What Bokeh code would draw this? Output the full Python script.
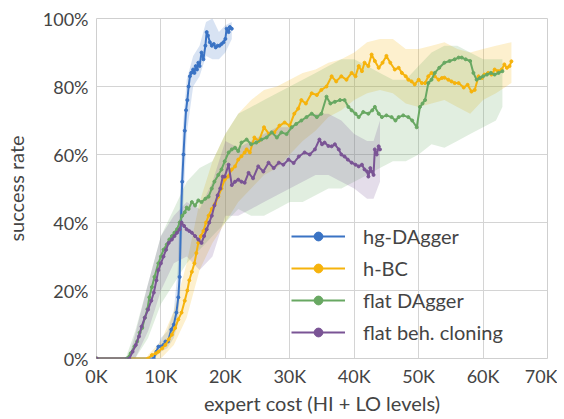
from bokeh.plotting import figure
from bokeh.models import FixedTicker, Legend, LegendItem, Range1d
from bokeh.embed import file_html
from bokeh.resources import INLINE

# ---------------- data (x in thousands of expert cost, y in %) ----------------
x_tick_vals = [0, 10, 20, 30, 40, 50, 60, 70]
x_tick_labels = ["0K", "10K", "20K", "30K", "40K", "50K", "60K", "70K"]
y_tick_vals = [0, 20, 40, 60, 80, 100]
y_tick_labels = ["0%", "20%", "40%", "60%", "80%", "100%"]

series_names = ["hg-DAgger", "h-BC", "flat DAgger", "flat beh. cloning"]
series_colors = ["#3a73c4", "#f6b30c", "#68a862", "#7a5495"]

hg_x = [0, 8.9, 9.3, 9.6, 10.0, 10.4, 10.7, 11.1, 11.6, 12.0, 12.4, 12.7, 12.9, 13.1, 13.3, 13.5,
        13.7, 13.9, 14.1, 14.3, 14.5, 14.7, 15.0, 15.2, 15.4, 15.6, 15.8, 16.0, 16.3, 16.6, 16.9,
        17.1, 17.3, 17.6, 17.9, 18.2, 18.5, 18.8, 19.1, 19.4, 19.7, 20.0, 20.2, 20.5, 20.7, 21.0]
hg_y = [0, 0, 2, 3.5, 3.5, 4, 5, 5, 8.5, 10, 13.5, 18, 24, 40, 52, 60,
        67, 73, 76, 80, 83, 84, 85, 84, 86, 85, 87, 86, 90, 88, 92,
        96, 95, 93, 92, 92.5, 91.5, 92, 92, 92.5, 93, 94, 97, 96, 97.5, 97]
hg_band_x = [8.9, 10, 11, 12, 12.6, 13.0, 13.4, 14.0, 15, 16, 17, 18, 19, 20, 21]
hg_band_lo = [0, 2, 3, 6, 10, 20, 42, 66, 80, 83, 89, 88, 88, 90, 94]
hg_band_hi = [1, 6, 8, 14, 26, 50, 68, 82, 89, 92, 99, 100, 96, 98, 99]

hbc_x = [0, 8.0, 8.6, 9.2, 9.6, 10.2, 10.7, 11.2, 11.7, 12.2, 12.7, 13.2, 13.7, 14.1, 14.4, 14.8,
         15.2, 15.5, 15.8, 16.2, 16.6, 17.0, 17.4, 17.9, 18.4, 18.9, 19.4, 19.9, 20.4, 21.0, 21.5,
         22.0, 22.5, 23.0, 23.3, 23.8, 24.5, 25.2, 26.0, 26.8, 27.6, 28.4, 29.2, 30.0, 30.7, 31.3,
         31.8, 32.5, 33.4, 34.2, 34.9, 35.7, 36.5, 37.2, 38.0, 38.8, 39.6, 40.2, 40.7, 41.2, 41.6,
         42.2, 42.7, 43.2, 43.8, 44.4, 45.0, 45.6, 46.3, 46.9, 47.4, 48.0, 48.4, 48.9, 49.4, 50.0,
         50.5, 51.0, 51.5, 52.0, 52.5, 53.1, 53.6, 54.0, 54.6, 55.1, 55.6, 56.2, 57.0, 57.6, 58.2,
         58.7, 59.3, 59.8, 60.2, 60.8, 61.3, 61.8, 62.3, 62.9, 63.3, 63.7, 64.1, 64.4]
hbc_y = [0, 0, 1, 1.5, 2, 3, 4, 5.6, 7, 9, 11.5, 13.5, 17, 20, 23, 25.5,
         28, 31, 34, 36, 37.5, 40, 42, 44, 45.5, 47.6, 50, 52.6, 53.5, 55.6, 56.5,
         58.5, 59.5, 60.6, 61.5, 60.6, 65, 64, 68, 66, 66.5, 68.5, 69.4, 68.5, 72, 73.5,
         76, 75, 78, 77.5, 79, 80, 83, 81.5, 83, 82, 84, 83, 86, 84.5, 87,
         86, 89.4, 87.5, 85.5, 87, 89, 87, 85, 85.5, 84, 83, 82, 81.5, 80.6, 82,
         81, 81, 83, 84, 83, 82, 82.5, 82.6, 82, 81.5, 81, 81, 79.7, 80.5, 78.5,
         79, 83, 82.5, 83.5, 84, 83.5, 85, 84.5, 85, 86.5, 85.5, 86, 87.4]
hbc_band_x = [8, 10, 12, 14, 16, 18, 20, 22, 24, 26, 28, 30, 32, 34, 36, 38, 40, 42, 44, 46,
              48, 50, 52, 54, 56, 58, 60, 62, 64.4]
hbc_band_lo = [0, 0, 4, 12, 26, 34, 40, 46, 50, 54, 56, 60, 64, 67, 71, 73, 76, 78, 79, 78,
               75, 74, 75, 76, 74, 72, 76, 78, 81]
hbc_band_hi = [1, 5, 14, 28, 46, 58, 66, 72, 76, 79, 80, 82, 84, 85, 87, 88, 90, 93, 94, 94,
               91, 91, 92, 93, 91, 90, 91, 92, 93]

fd_x = [0, 4.7, 5.3, 5.9, 6.3, 6.7, 7.1, 7.5, 7.9, 8.2, 8.6, 9.0, 9.6, 10.0, 10.4, 10.9, 11.3,
        11.7, 12.1, 12.5, 12.9, 13.3, 13.7, 14.0, 14.3, 14.8, 15.3, 15.8, 16.3, 16.9, 17.4, 17.9,
        18.3, 18.9, 19.4, 19.9, 20.5, 21.0, 21.5, 22.0, 22.5, 23.3, 24.0, 24.8, 25.6, 26.4, 27.2,
        28.0, 28.7, 29.5, 30.3, 31.0, 31.8, 32.6, 33.4, 34.2, 34.9, 35.7, 36.3, 37.0, 37.8, 38.5,
        39.1, 39.6, 40.2, 40.7, 41.4, 42.2, 42.8, 43.2, 43.8, 44.3, 45.0, 45.8, 46.4, 46.9, 47.6,
        48.4, 49.0, 49.7, 50.2, 50.6, 51.0, 51.5, 52.0, 52.5, 53.2, 54.0, 54.8, 55.6, 56.2, 56.7,
        57.3, 58.0, 58.5, 59.0, 59.5, 60.0, 60.6, 61.2, 61.8, 62.4, 63.0]
fd_y = [0, 0, 1.5, 3.5, 5, 7.6, 9, 12, 14.5, 18, 21, 24, 28, 30, 32, 33.5, 35,
        36, 37, 38, 40, 42, 43, 44.4, 44, 46, 45, 46.5, 46, 47, 47.6, 50,
        52, 54, 55.6, 58, 60.6, 61.5, 62, 61, 63.5, 64.4, 63, 63.5, 64.4, 65, 66.5,
        65, 66.5, 66, 68, 69, 70, 71, 72, 71, 72, 77, 75, 75.5, 76, 76,
        74, 73, 72, 71, 72.5, 72, 73, 74, 72, 71, 71.5, 71, 70, 71, 71.5,
        71, 70, 68, 74, 75, 76, 81, 82, 84, 85.5, 87, 87.5, 88, 88.5, 88.5,
        88, 87.5, 84, 82, 82.5, 83, 83.5, 84, 83.5, 84, 84.5]
fd_band_x = [4.7, 6, 8, 10, 12, 14, 16, 18, 20, 22, 24, 26, 28, 30, 32, 34, 36, 38, 40, 42, 44,
             46, 48, 50, 52, 54, 56, 58, 60, 62, 63]
fd_band_lo = [0, 0, 6, 16, 22, 28, 32, 36, 40, 44, 42, 42, 44, 46, 46, 48, 50, 50, 52, 54, 56,
              58, 58, 60, 63, 62, 64, 66, 68, 70, 74]
fd_band_hi = [1, 8, 22, 36, 44, 52, 56, 58, 66, 72, 74, 76, 78, 80, 82, 84, 86, 88, 88, 86, 84,
              82, 82, 86, 90, 92, 92, 90, 88, 88, 88]

fbc_x = [0, 5.1, 5.6, 6.1, 6.6, 7.0, 7.5, 8.0, 8.5, 8.9, 9.3, 9.6, 10.0, 10.4, 10.8, 11.2, 11.7,
         12.1, 12.5, 12.9, 13.2, 13.6, 14.0, 14.4, 14.8, 15.3, 15.8, 16.3, 16.7, 17.1, 17.5, 17.9,
         18.3, 18.8, 19.2, 19.6, 19.9, 20.5, 21.0, 21.5, 22.0, 22.5, 23.0, 23.6, 24.3, 25.1, 25.9,
         26.7, 27.5, 28.3, 29.0, 29.8, 30.6, 31.4, 32.3, 33.1, 33.9, 34.6, 35.0, 35.4, 36.0, 36.5,
         37.0, 37.6, 38.0, 38.5, 39.0, 39.6, 40.2, 40.7, 41.2, 41.6, 42.0, 42.2, 42.5, 42.7, 43.0,
         43.2, 43.5, 43.8, 44.0]
fbc_y = [0, 0, 2, 4, 6.5, 9.4, 12, 14.4, 17, 19.4, 23, 26, 28, 30, 32, 34, 35,
         36, 37, 38, 40, 39, 38, 37.5, 37, 36, 35, 34, 36, 38, 40, 42,
         45, 48, 50, 53.5, 53.5, 57, 51, 52, 52.6, 52, 51.7, 54.6, 53, 56.5, 55,
         57.6, 56, 57.6, 57, 58.5, 57.5, 59.4, 60.6, 60, 61.5, 64.4, 63, 63.5, 62.5, 62.4,
         63, 61.5, 60, 59.4, 58.5, 57.6, 57, 56.5, 57, 55.6, 55, 53.5, 56, 55, 54,
         61.5, 60, 62.4, 61.5]
fbc_band_x = [5.1, 6, 8, 10, 12, 14, 16, 18, 20, 22, 24, 26, 28, 30, 32, 34, 36, 38, 40, 42,
              43, 44]
fbc_band_lo = [0, 0, 8, 20, 28, 30, 26, 30, 42, 42, 44, 46, 48, 50, 52, 54, 54, 52, 50, 47,
               47, 52]
fbc_band_hi = [1, 7, 22, 36, 42, 46, 44, 52, 64, 62, 64, 66, 68, 68, 70, 72, 72, 70, 66, 64,
               64, 70]

lines = [(hg_x, hg_y), (hbc_x, hbc_y), (fd_x, fd_y), (fbc_x, fbc_y)]
bands = [(hg_band_x, hg_band_lo, hg_band_hi), (hbc_band_x, hbc_band_lo, hbc_band_hi),
         (fd_band_x, fd_band_lo, fd_band_hi), (fbc_band_x, fbc_band_lo, fbc_band_hi)]

FONT = "Lato"
TEXT = "#444444"

p = figure(frame_width=451, frame_height=340, output_backend="svg", toolbar_location=None,
           x_range=Range1d(0, 70), y_range=Range1d(0, 100),
           min_border_left=87, min_border_right=10, min_border_top=18, min_border_bottom=52)
p.background_fill_color = "white"
p.border_fill_color = "white"
p.outline_line_color = "#cfcfcf"
p.outline_line_width = 1

p.xaxis.ticker = FixedTicker(ticks=x_tick_vals)
p.yaxis.ticker = FixedTicker(ticks=y_tick_vals)
p.xaxis.major_label_overrides = {v: s for v, s in zip(x_tick_vals, x_tick_labels)}
p.yaxis.major_label_overrides = {v: s for v, s in zip(y_tick_vals, y_tick_labels)}
p.xaxis.axis_label = "expert cost (HI + LO levels)"
p.yaxis.axis_label = "success rate"
for ax in (p.xaxis, p.yaxis):
    ax.axis_line_color = None
    ax.major_tick_line_color = None
    ax.minor_tick_line_color = None
    ax.major_tick_out = 0
    ax.major_tick_in = 0
    ax.minor_tick_out = 0
    ax.minor_tick_in = 0
    ax.major_label_text_font = FONT
    ax.major_label_text_font_size = "18px"
    ax.major_label_text_color = TEXT
    ax.axis_label_text_font = FONT
    ax.axis_label_text_font_size = "20px"
    ax.axis_label_text_font_style = "normal"
    ax.axis_label_text_color = TEXT
p.xaxis.major_label_standoff = 6
p.yaxis.major_label_standoff = 8
p.xaxis.axis_label_standoff = 1
p.yaxis.axis_label_standoff = 12
p.grid.grid_line_color = "#d4d4d4"
p.grid.grid_line_width = 1

for (bx, lo, hi), c in zip(bands, series_colors):
    p.varea(x=bx, y1=lo, y2=hi, fill_color=c, fill_alpha=0.2)

items = []
for i, name in enumerate(series_names):
    (lx, ly), c = lines[i], series_colors[i]
    ln = p.line(x=lx, y=ly, line_color=c, line_width=2)
    dots = p.scatter(x=lx, y=ly, size=3, fill_color=c, line_color=c)
    items.append(LegendItem(label=name, renderers=[ln, dots]))

legend = Legend(items=items, location=(195, 14), border_line_color=None,
                background_fill_alpha=0, padding=0, margin=0, spacing=8,
                glyph_width=54, glyph_height=22, label_height=22, label_standoff=18,
                label_text_font=FONT, label_text_font_size="20px", label_text_color=TEXT)
p.add_layout(legend)

open("out.html", "w").write(file_html(p, INLINE))
